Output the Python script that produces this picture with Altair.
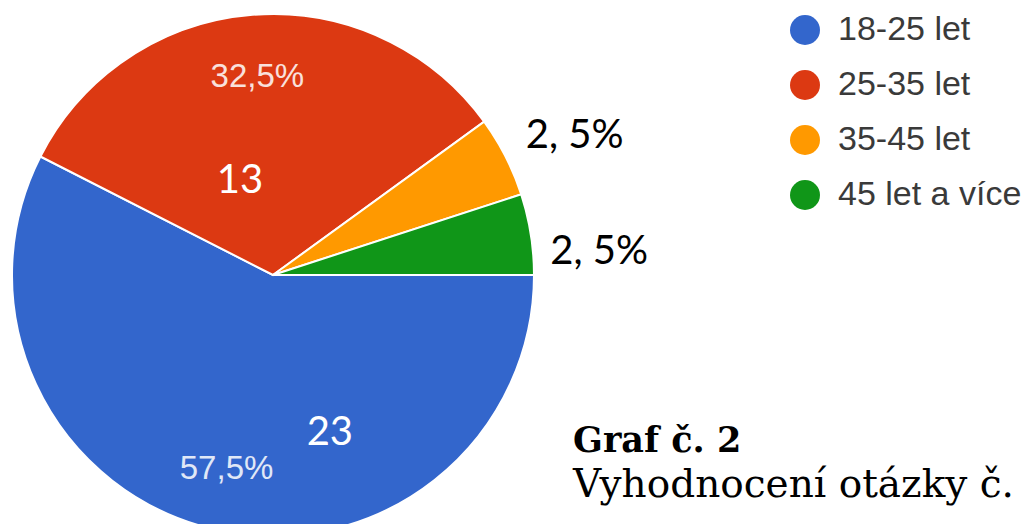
import math
import altair as alt
import pandas as pd

categories = ["18-25 let", "25-35 let", "35-45 let", "45 let a více"]
counts = [23, 13, 2, 2]
pct_labels = ["57,5%", "32,5%", "", ""]
count_labels = ["23", "13", "", ""]
outer_labels = ["", "", "2, 5%", "2, 5%"]
colors = ["#3366cc", "#dc3912", "#ff9900", "#109618"]

df = pd.DataFrame({
    "idx": list(range(len(categories))),
    "category": categories,
    "count": counts,
    "pct": pct_labels,
    "cnt": count_labels,
    "outer": outer_labels,
})

CX, CY, R = 265, 267, 261

base = alt.Chart(df).encode(
    theta=alt.Theta("count:Q", stack=True,
                    scale=alt.Scale(range=[math.pi / 2, math.pi / 2 + 2 * math.pi])),
    order=alt.Order("idx:Q"),
    x=alt.value(CX),
    y=alt.value(CY),
)

pie = base.mark_arc(outerRadius=R, stroke="white", strokeWidth=2).encode(
    color=alt.Color(
        "category:N",
        scale=alt.Scale(domain=categories, range=colors),
        legend=alt.Legend(
            title=None, orient="none", legendX=780, legendY=5,
            symbolType="circle", symbolSize=900, symbolStrokeWidth=0,
            symbolOpacity=1, labelFontSize=34, labelFont="Liberation Sans",
            labelColor="#3a3a3a", rowPadding=21, labelOffset=16, labelLimit=0,
        ),
    )
)

pct_text = base.mark_text(radius=199, font="Liberation Sans", fontSize=33,
                          color="white", opacity=0.85, baseline="middle").encode(
    text="pct:N")


def single_label(cat, radius, theta_offset, color, field):
    return base.transform_calculate(
        lab=f"datum.category == '{cat}' ? datum.{field} : ''"
    ).mark_text(radius=radius, thetaOffset=theta_offset, font="Lato",
                fontSize=40, color=color, baseline="middle").encode(text="lab:N")


lab13 = single_label("25-35 let", 100, -0.258, "white", "cnt")
lab23 = single_label("18-25 let", 168, -0.581, "white", "cnt")
out1 = single_label("35-45 let", 332, 0.04, "black", "outer")
out2 = single_label("45 let a více", 327, 0.087, "black", "outer")

title_df = pd.DataFrame({"t": ["Graf č. 2"]})
sub_df = pd.DataFrame({"t": ["Vyhodnocení otázky č."]})
title = alt.Chart(title_df).mark_text(
    font="DejaVu Serif", fontWeight="bold", fontSize=35, align="left",
    baseline="alphabetic", color="black").encode(
    x=alt.value(565), y=alt.value(444), text="t:N")
sub = alt.Chart(sub_df).mark_text(
    font="DejaVu Serif", fontSize=39, align="left",
    baseline="alphabetic", color="black").encode(
    x=alt.value(565), y=alt.value(489), text="t:N")

chart = alt.layer(pie, pct_text, lab13, lab23, out1, out2, title, sub).properties(
    width=1013, height=516, padding=0,
    autosize=alt.AutoSizeParams(type="none"),
).configure_view(stroke=None)

chart.save("out.html", embed_options={"renderer": "svg", "actions": False})
